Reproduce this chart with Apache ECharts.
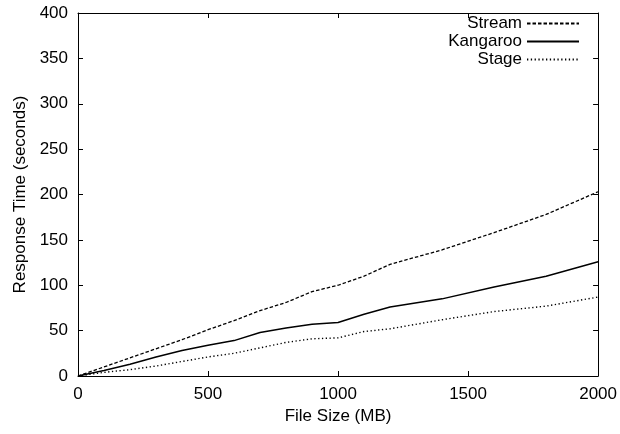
<!DOCTYPE html>
<html>
<head>
<meta charset="utf-8">
<script src="https://cdn.jsdelivr.net/npm/echarts@6/dist/echarts.min.js"></script>
<style>
html,body{margin:0;padding:0;background:#fff;}
#chart{width:620px;height:434px;}
</style>
</head>
<body>
<div id="chart"></div>
<script>
const fileSizes = [0,100,200,300,400,500,600,700,800,900,1000,1100,1200,1400,1600,1800,2000];
const streamTimes = [0,10,20,30,40,51,61,72,81,93,100,110,123,139,158,178,203];
const kangarooTimes = [0,6,13,21,28,34,39,48,53,57,59,68,76,85,98,110,126];
const stageTimes = [0,4,7,11,16,21,25,31,37,41,42,49,52,62,71,77,87];
const xTicks = [0,500,1000,1500,2000];
const yTicks = [0,50,100,150,200,250,300,350,400];

const font = 'Liberation Sans, Arial, sans-serif';
const fs = 17;
function pairs(ys){ return fileSizes.map((x,i)=>[x, ys[i]]); }

const chart = echarts.init(document.getElementById('chart'));
const axisCommon = {
  axisLine:{show:true, onZero:false, lineStyle:{color:'#000', width:1}},
  axisTick:{show:true, inside:true, length:5, lineStyle:{color:'#000'}},
  splitLine:{show:false}
};
function mkLegend(name, top){
  return {
    data:[name], top: top, right: 40, align:'right', orient:'vertical',
    itemWidth: 52, itemHeight: 10, itemGap: 0, padding:0,
    itemStyle:{opacity:0},
    textStyle:{fontFamily:font, fontSize:fs, color:'#000'},
    selectedMode:false
  };
}
chart.setOption({
  animation:false,
  backgroundColor:'#fff',
  grid:{left:78, right:20, top:13, bottom:58, containLabel:false},
  legend:[mkLegend('Stream',15), mkLegend('Kangaroo',33), mkLegend('Stage',51)],
  xAxis:[
    Object.assign({type:'value', min:0, max:2000, interval:500, position:'bottom',
      name:'File Size (MB)', nameLocation:'middle', nameGap:28,
      nameTextStyle:{fontFamily:font, fontSize:fs, color:'#000'},
      axisLabel:{fontFamily:font, fontSize:fs, color:'#000', margin:10,
        formatter:v=>xTicks.indexOf(v)>=0?String(v):''}}, axisCommon),
    Object.assign({type:'value', min:0, max:2000, interval:500, position:'top',
      axisLabel:{show:false}}, axisCommon)
  ],
  yAxis:[
    Object.assign({type:'value', min:0, max:400, interval:50, position:'left',
      name:'Response Time (seconds)', nameLocation:'middle', nameGap:46,
      nameTextStyle:{fontFamily:font, fontSize:fs, color:'#000'},
      axisLabel:{fontFamily:font, fontSize:fs, color:'#000', margin:10,
        formatter:v=>yTicks.indexOf(v)>=0?String(v):''}}, axisCommon),
    Object.assign({type:'value', min:0, max:400, interval:50, position:'right',
      axisLabel:{show:false}}, axisCommon)
  ],
  series:[
    {name:'Stream', type:'line', data:pairs(streamTimes), symbol:'none',
      lineStyle:{color:'#000', width:1.3, type:[3.5,2]}, itemStyle:{color:'#000'}},
    {name:'Kangaroo', type:'line', data:pairs(kangarooTimes), symbol:'none',
      lineStyle:{color:'#000', width:1.5, type:'solid'}, itemStyle:{color:'#000'}},
    {name:'Stage', type:'line', data:pairs(stageTimes), symbol:'none',
      lineStyle:{color:'#000', width:1.4, type:[1.3,2.5]}, itemStyle:{color:'#000'}}
  ]
});
</script>
</body>
</html>
